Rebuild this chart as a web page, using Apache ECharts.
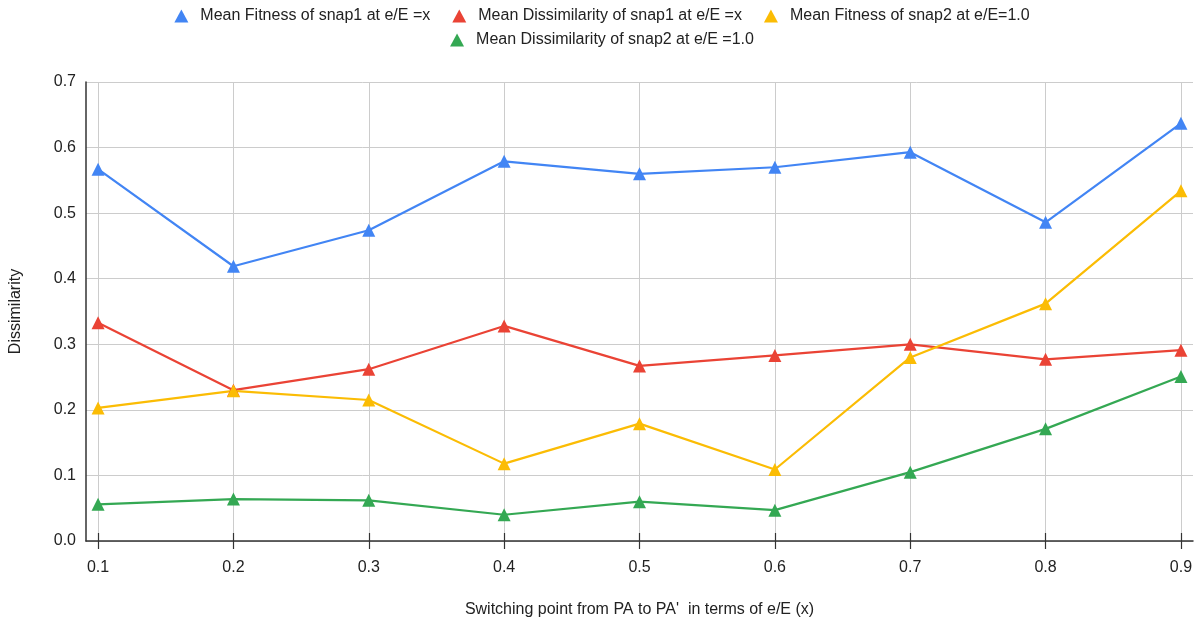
<!DOCTYPE html>
<html><head><meta charset="utf-8">
<script src="https://cdn.jsdelivr.net/npm/echarts@6/dist/echarts.min.js"></script>
<style>html,body{margin:0;padding:0;background:#fff}#c{width:1204px;height:624px}</style>
</head><body><div id="c"></div>
<script>
var xValues = [0.1, 0.2, 0.3, 0.4, 0.5, 0.6, 0.7, 0.8, 0.9];
var xTicks = [0.1, 0.2, 0.3, 0.4, 0.5, 0.6, 0.7, 0.8, 0.9];
var fitnessSnap1 = [0.567, 0.419, 0.474, 0.579, 0.560, 0.570, 0.593, 0.486, 0.637];
var dissimSnap1 = [0.333, 0.230, 0.262, 0.328, 0.267, 0.283, 0.300, 0.277, 0.291];
var fitnessSnap2 = [0.203, 0.229, 0.215, 0.118, 0.179, 0.109, 0.280, 0.362, 0.534];
var dissimSnap2 = [0.056, 0.064, 0.062, 0.040, 0.060, 0.047, 0.105, 0.171, 0.251];
var names = ['Mean Fitness of snap1 at e/E =x', 'Mean Dissimilarity of snap1 at e/E =x', 'Mean Fitness of snap2 at e/E=1.0', 'Mean Dissimilarity of snap2 at e/E =1.0'];
var colors = ['#4285F4', '#EA4335', '#FBBC04', '#34A853'];
var allSeries = [fitnessSnap1, dissimSnap1, fitnessSnap2, dissimSnap2];

var font = 'Liberation Sans, Arial, sans-serif';
var fs = 16;
function pairs(arr){ return xValues.map(function(x,i){ return [x, arr[i]]; }); }
var chart = echarts.init(document.getElementById('c'), null, {renderer:'canvas'});
var legendBase = {
  left: 'center', icon: 'triangle', itemWidth: 14, itemHeight: 13, itemGap: 22,
  textStyle: {fontSize: fs, color: '#222', fontFamily: font, padding: [0, 0, 0, 7]}
};
chart.setOption({
  animation: false,
  color: colors,
  textStyle: {fontFamily: font},
  legend: [
    Object.assign({}, legendBase, {data: names.slice(0,3), top: 3}),
    Object.assign({}, legendBase, {data: names.slice(3), top: 27})
  ],
  grid: {left: 85, right: 11, top: 82, bottom: 83, containLabel: false},
  xAxis: [{
    type: 'value', min: 0.0911, max: 0.9089,
    name: "Switching point from PA to PA'  in terms of e/E (x)", nameLocation: 'middle', nameGap: 61,
    nameTextStyle: {fontSize: fs, color: '#222', fontFamily: font},
    axisLine: {show: true, lineStyle: {color: '#333', width: 1.5}},
    axisTick: {show: true, customValues: xTicks, length: 8, lineStyle: {color: '#333', width: 1.2}},
    axisLabel: {customValues: xTicks, fontSize: fs, color: '#222', margin: 19, formatter: function(v){ return v.toFixed(1); }},
    splitLine: {show: true, lineStyle: {color: '#ccc', width: 1}}
  },{
    type: 'value', min: 0.0911, max: 0.9089, position: 'bottom',
    axisLine: {show: false},
    axisTick: {show: true, inside: true, customValues: xTicks, length: 8, lineStyle: {color: '#333', width: 1.2}},
    axisLabel: {show: false},
    splitLine: {show: false}
  }],
  yAxis: {
    type: 'value', min: 0, max: 0.7, interval: 0.1,
    name: 'Dissimilarity', nameLocation: 'middle', nameGap: 62, nameRotate: 90,
    nameTextStyle: {fontSize: fs, color: '#222', fontFamily: font},
    axisLine: {show: true, lineStyle: {color: '#333', width: 1.5}},
    axisTick: {show: false},
    axisLabel: {fontSize: fs, color: '#222', margin: 10, formatter: function(v){ return v.toFixed(1); }},
    splitLine: {show: true, lineStyle: {color: '#ccc', width: 1}}
  },
  series: allSeries.map(function(arr, i){
    return {
      name: names[i], type: 'line', data: pairs(arr), xAxisIndex: 0,
      symbol: 'triangle', symbolSize: 13, showSymbol: true,
      lineStyle: {width: 2.2, color: colors[i]},
      itemStyle: {color: colors[i]}
    };
  })
});
</script></body></html>
